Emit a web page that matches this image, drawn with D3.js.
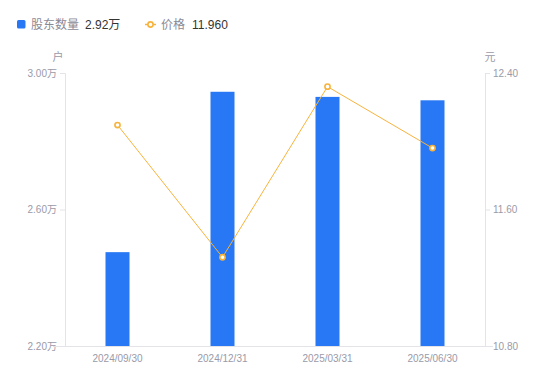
<!DOCTYPE html>
<html lang="zh">
<head>
  <meta charset="utf-8">
  <title>股东数量</title>
  <script src="https://d3js.org/d3.v7.min.js"></script>
  <style>
    body { margin: 0; background: #fff; }
    text { font-family: "Liberation Sans", Arial, "Noto Sans CJK SC", sans-serif; }
  </style>
</head>
<body>
<svg width="550" height="381"></svg>
<script>
  // data
  const dates = ["2024/09/30", "2024/12/31", "2025/03/31", "2025/06/30"];
  const holders = [2.475, 2.945, 2.93, 2.92];   // 万户
  const prices = [12.095, 11.32, 12.32, 11.96];  // 元
  const leftTicks = [2.20, 2.60, 3.00];
  const rightTicks = [10.80, 11.60, 12.40];

  const svg = d3.select("svg");
  const plotLeft = 65, plotRight = 485, plotTop = 73, plotBottom = 346;
  const blue = "#2878f5", orange = "#f8b33c", axisColor = "#e3e3e8", labelColor = "#9a9aa8";

  const x = d3.scaleBand().domain(dates).range([plotLeft, plotRight]);
  const yL = d3.scaleLinear().domain([2.2, 3.0]).range([plotBottom, plotTop]);
  const yR = d3.scaleLinear().domain([10.8, 12.4]).range([plotBottom, plotTop]);

  // axes
  const gL = svg.append("g").attr("transform", `translate(${plotLeft},0)`)
    .call(d3.axisLeft(yL).tickValues(leftTicks).tickSize(5).tickPadding(3)
      .tickFormat(d => d3.format(".2f")(d) + "万"));
  const gR = svg.append("g").attr("transform", `translate(${plotRight},0)`)
    .call(d3.axisRight(yR).tickValues(rightTicks).tickSize(5).tickPadding(3)
      .tickFormat(d3.format(".2f")));
  const gX = svg.append("g").attr("transform", `translate(0,${plotBottom})`)
    .call(d3.axisBottom(x).tickSize(0).tickPadding(9));

  [gL, gR, gX].forEach(g => {
    g.selectAll("path, line").attr("stroke", axisColor);
    g.selectAll("text").attr("fill", labelColor).attr("font-size", 10);
  });
  gX.select(".domain").attr("d", `M${plotLeft - 12},0.5H${plotRight + 8}`);

  // unit labels
  svg.append("text").attr("x", 58).attr("y", 61).attr("text-anchor", "middle")
    .attr("fill", labelColor).attr("font-size", 11).text("户");
  svg.append("text").attr("x", 490).attr("y", 61).attr("text-anchor", "middle")
    .attr("fill", labelColor).attr("font-size", 11).text("元");

  // bars
  const bw = 24;
  svg.append("g").selectAll("rect").data(holders).join("rect")
    .attr("x", (d, i) => x(dates[i]) + x.bandwidth() / 2 - bw / 2)
    .attr("y", d => yL(d))
    .attr("width", bw)
    .attr("height", d => plotBottom - yL(d))
    .attr("fill", blue);

  // price line
  const line = d3.line()
    .x((d, i) => x(dates[i]) + x.bandwidth() / 2)
    .y(d => yR(d));
  svg.append("path").datum(prices)
    .attr("d", line).attr("fill", "none")
    .attr("stroke", orange).attr("stroke-width", 1);
  svg.append("g").selectAll("circle").data(prices).join("circle")
    .attr("cx", (d, i) => x(dates[i]) + x.bandwidth() / 2)
    .attr("cy", d => yR(d))
    .attr("r", 2.6)
    .attr("fill", "#fff")
    .attr("stroke", orange).attr("stroke-width", 1.6);

  // legend
  const lg = svg.append("g").attr("font-size", 12);
  lg.append("rect").attr("x", 17).attr("y", 20).attr("width", 8.5).attr("height", 8.5)
    .attr("rx", 1.5).attr("fill", blue);
  lg.append("text").attr("x", 31).attr("y", 29).attr("fill", "#8a8a96").text("股东数量");
  lg.append("text").attr("x", 85).attr("y", 29).attr("fill", "#333").text("2.92万");
  lg.append("line").attr("x1", 145).attr("x2", 156).attr("y1", 24.5).attr("y2", 24.5)
    .attr("stroke", orange).attr("stroke-width", 1.5);
  lg.append("circle").attr("cx", 150.5).attr("cy", 24.5).attr("r", 2.6)
    .attr("fill", "#fff").attr("stroke", orange).attr("stroke-width", 1.6);
  lg.append("text").attr("x", 161).attr("y", 29).attr("fill", "#8a8a96").text("价格");
  lg.append("text").attr("x", 192).attr("y", 29).attr("fill", "#333").text("11.960");
</script>
</body>
</html>
